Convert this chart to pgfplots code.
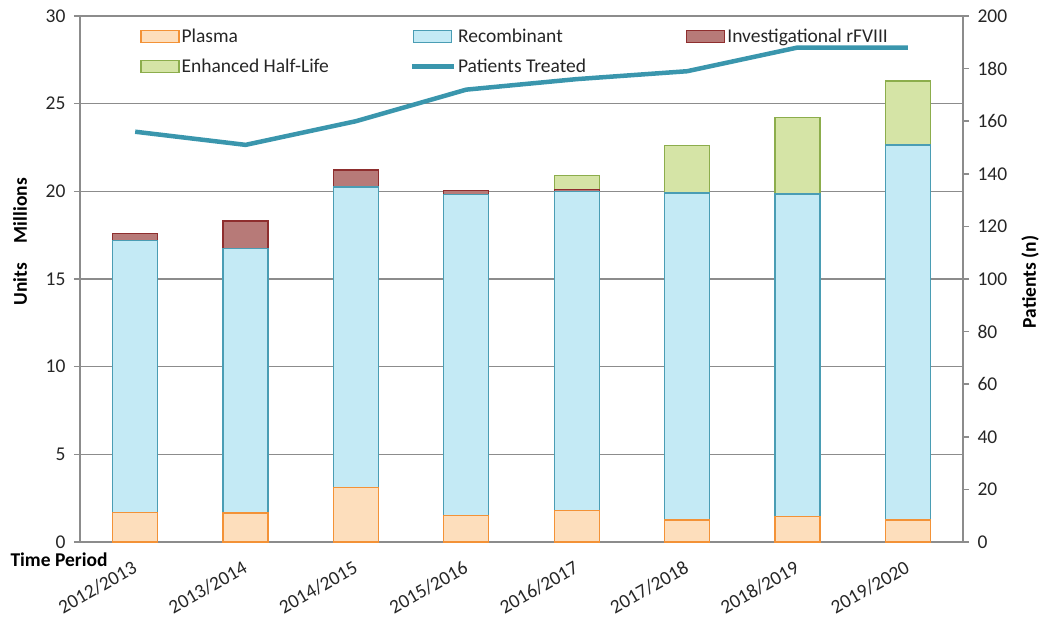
\documentclass[border=0pt]{standalone}
\usepackage{pgfplots}
\pgfplotsset{compat=1.18}
\usepackage{fontspec}
\setmainfont{Carlito}

\definecolor{gridgray}{HTML}{8C8C8C}
\definecolor{plasmafill}{HTML}{FDDEBC}
\definecolor{plasmaedge}{HTML}{F39237}
\definecolor{recfill}{HTML}{C4EAF5}
\definecolor{recedge}{HTML}{4A9DB4}
\definecolor{invfill}{HTML}{B77A78}
\definecolor{invedge}{HTML}{8E2E2E}
\definecolor{ehlfill}{HTML}{D5E4A6}
\definecolor{ehledge}{HTML}{8CAD4C}
\definecolor{patline}{HTML}{3A96AD}
\definecolor{txt}{HTML}{262626}

\begin{document}
\begin{tikzpicture}
\pgfplotsset{
  barleg/.style={legend image code/.code={\draw[##1,/tikz/.cd] (0pt,-6pt) rectangle (38pt,6pt);}},
  lineleg/.style={legend image code/.code={\draw[##1,/tikz/.cd] (-2pt,0pt) -- (40pt,0pt);}},
  every axis/.append style={font=\fontsize{19.5}{23}\selectfont, text=txt},
}
% Units dispensed by product type (millions), stacked per period
\begin{axis}[
  at={(80pt,77pt)}, anchor=south west,
  scale only axis, width=883pt, height=526pt,
  xmin=-0.5, xmax=7.5, ymin=0, ymax=30,
  ybar stacked, bar width=45pt,
  xtick={0,...,7},
  xticklabels={2012/2013,2013/2014,2014/2015,2015/2016,2016/2017,2017/2018,2018/2019,2019/2020},
  x tick label style={rotate=30, anchor=north east, inner sep=1pt, yshift=-7pt, xshift=-8pt},
  xtick style={draw=none},
  ytick={0,5,...,30},
  y tick label style={xshift=-5pt},
  ymajorgrids, grid style={gridgray, line width=1.5pt},
  axis x line*=bottom, axis y line*=left,
  axis line style={gridgray, line width=1.5pt, -},
  tick align=outside, major tick length=6pt,
  ytick style={gridgray, line width=1.5pt},
  /pgf/number format/assume math mode=true,
  legend columns=3, legend cell align=left,
  legend style={at={(0.068,0.98)}, anchor=north west, draw=none, fill=none,
    inner sep=0pt, row sep=11pt, nodes={inner sep=2pt, text=txt}},
]
\addplot[barleg, fill=plasmafill, draw=plasmaedge, line width=1.3pt]
  coordinates {(0,1.70) (1,1.65) (2,3.10) (3,1.50) (4,1.80) (5,1.25) (6,1.45) (7,1.25)};
\addlegendentry{\makebox[226pt][l]{Plasma}}
\addplot[barleg, fill=recfill, draw=recedge, line width=1.3pt]
  coordinates {(0,15.50) (1,15.10) (2,17.15) (3,18.33) (4,18.20) (5,18.65) (6,18.40) (7,21.40)};
\addlegendentry{\makebox[226pt][l]{Recombinant}}
\addplot[barleg, fill=invfill, draw=invedge, line width=1.3pt]
  coordinates {(0,0.40) (1,1.55) (2,0.97) (3,0.20) (4,0.10) (5,0) (6,0) (7,0)};
\addlegendentry{Investigational rFVIII}
\addplot[barleg, fill=ehlfill, draw=ehledge, line width=1.3pt]
  coordinates {(0,0) (1,0) (2,0) (3,0) (4,0.80) (5,2.72) (6,4.37) (7,3.65)};
\addlegendentry{\makebox[226pt][l]{Enhanced Half-Life}}
\addlegendimage{lineleg, patline, line width=4.5pt}
\addlegendentry{\makebox[226pt][l]{Patients Treated}}
\end{axis}

% Patients treated per period, right-hand scale
\begin{axis}[
  at={(80pt,77pt)}, anchor=south west,
  scale only axis, width=883pt, height=526pt,
  xmin=-0.5, xmax=7.5, ymin=0, ymax=200,
  axis x line=none, axis y line*=right,
  axis line style={gridgray, line width=1.5pt, -},
  ytick={0,20,...,200},
  y tick label style={xshift=5pt},
  tick align=outside, major tick length=6pt,
  ytick style={gridgray, line width=1.5pt},
  /pgf/number format/assume math mode=true,
]
\addplot[patline, line width=4.5pt, mark=none]
  coordinates {(0,156) (1,151) (2,160) (3,172) (4,176) (5,179) (6,188) (7,188)};
\end{axis}

\node[anchor=west, font=\fontsize{19.5}{23}\selectfont\bfseries, text=black] at (7pt,59pt) {Time Period};
\node[rotate=90, font=\fontsize{19.5}{23}\selectfont\bfseries, text=black] at (20pt,377pt) {Units\hspace{20pt}Millions};
\node[rotate=90, font=\fontsize{19.5}{23}\selectfont\bfseries, text=black] at (1030pt,337pt) {Patients (n)};

\pgfresetboundingbox
\useasboundingbox (0,0) rectangle (1044pt,619pt);
\end{tikzpicture}
\end{document}
